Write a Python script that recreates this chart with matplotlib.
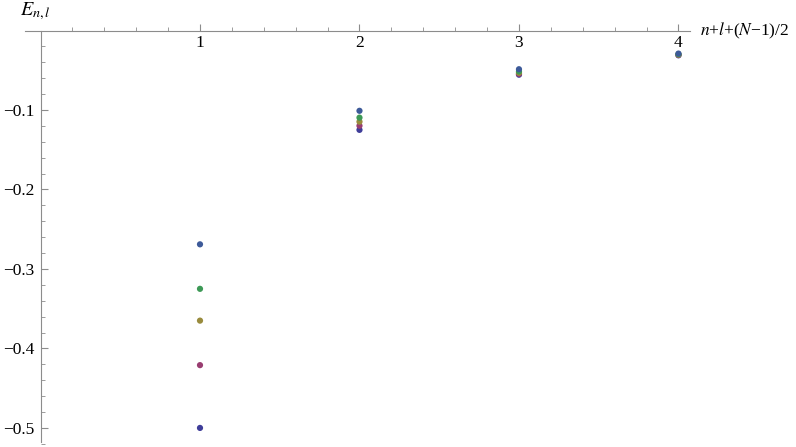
import colorsys
import numpy as np
import matplotlib
matplotlib.use("Agg")
import matplotlib.pyplot as plt
from matplotlib.ticker import FixedLocator

plt.rcParams['font.family'] = ['Liberation Serif', 'DejaVu Serif']
plt.rcParams['mathtext.fontset'] = 'stix'

# data
n_vals = [1, 2, 3, 4]
E_s1 = [-0.500, -0.1250, -0.0556, -0.0312]
E_s2 = [-0.421, -0.1198, -0.0545, -0.0308]
E_s3 = [-0.365, -0.1147, -0.0532, -0.0303]
E_s4 = [-0.325, -0.1096, -0.0515, -0.0298]
E_s5 = [-0.269, -0.1010, -0.0487, -0.0290]
series = [E_s1, E_s2, E_s3, E_s4, E_s5]
hues = [0.67, 0.906068, 0.142136, 0.378204, 0.614272]

x_major = [1, 2, 3, 4]
y_major = [-0.1, -0.2, -0.3, -0.4, -0.5]
y_labels = ["\u22120.1", "\u22120.2", "\u22120.3", "\u22120.4", "\u22120.5"]

fig = plt.figure(figsize=(7.96, 4.47), dpi=100)
ax = fig.add_axes([0, 0, 1, 1])

for vals, h in zip(series, hues):
    col = colorsys.hsv_to_rgb(h, 0.6, 0.6)
    ax.scatter(n_vals, vals, s=20, color=col, edgecolors='none', zorder=3)

ax.set_xlim(-0.254, 4.737)
ax.set_ylim(-0.524, 0.0384)

for s in ['top', 'right']:
    ax.spines[s].set_visible(False)
axcol = '#8c8c8c'
ax.spines['left'].set_position(('data', 0))
ax.spines['bottom'].set_position(('data', 0))
ax.spines['left'].set_bounds(-0.518, 0)
ax.spines['bottom'].set_bounds(-0.1, 4.07)
ax.spines['left'].set_color(axcol)
ax.spines['bottom'].set_color(axcol)

ax.set_xticks(x_major)
ax.set_xticklabels([str(v) for v in x_major])
ax.xaxis.set_minor_locator(FixedLocator([v for v in np.arange(0.2, 4.0, 0.2)
                                         if abs(v - round(v)) > 1e-6]))
ax.set_yticks(y_major)
ax.set_yticklabels(y_labels)
ax.yaxis.set_minor_locator(FixedLocator([-v for v in np.arange(0.02, 0.521, 0.02)
                                         if abs(v * 10 - round(v * 10)) > 1e-6]))

ax.tick_params(which='both', direction='in', colors=axcol, labelcolor='black',
               labelsize=12.5)
ax.tick_params(which='major', length=5, width=0.8)
ax.tick_params(which='minor', length=3, width=0.6)
ax.tick_params(axis='x', pad=3)
ax.tick_params(axis='y', pad=4.5)

ax.text(-0.034, 0.024, r'$E_{n,l}$', fontsize=14.5, ha='center', va='center')
ax.text(4.135, 0.0, r'$n$+$l$+($N$' + '\u22121)/2', fontsize=12.5,
        ha='left', va='center')

fig.savefig('out.png', dpi=100)
